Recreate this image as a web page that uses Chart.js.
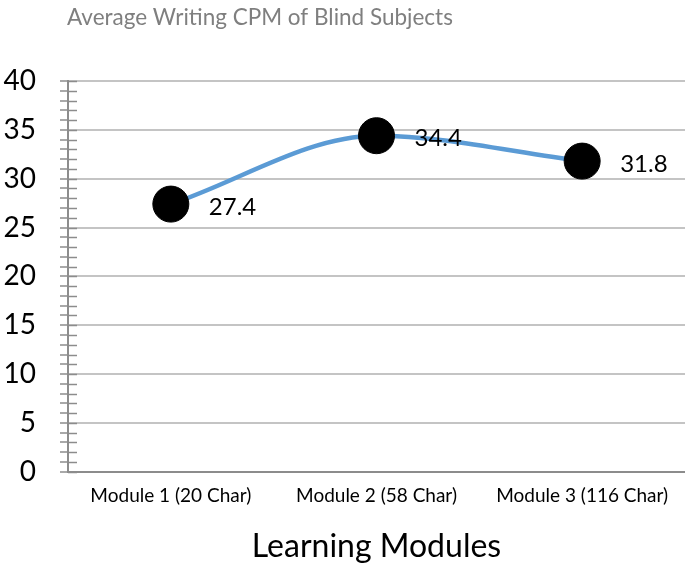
<!DOCTYPE html>
<html>
<head>
<meta charset="utf-8">
<script src="https://cdn.jsdelivr.net/npm/chart.js@4/dist/chart.umd.min.js"></script>
<style>
  body { margin: 0; background: #fff; }
  canvas { display: block; }
</style>
</head>
<body>
<canvas id="chart" width="685" height="567"></canvas>
<script>
var modules = ['Module 1 (20 Char)', 'Module 2 (58 Char)', 'Module 3 (116 Char)'];
var cpm = [27.4, 34.4, 31.8];
var yTicks = [0, 5, 10, 15, 20, 25, 30, 35, 40];
var chartTitle = 'Average Writing CPM of Blind Subjects';
var xTitle = 'Learning Modules';

// title drawn at left of plot area, like the original
var titlePlugin = {
  id: 'leftTitle',
  afterDraw: function(chart) {
    var ctx = chart.ctx;
    ctx.save();
    ctx.font = '22.5px Lato';
    ctx.fillStyle = '#7f7f7f';
    ctx.textAlign = 'left';
    ctx.textBaseline = 'middle';
    ctx.fillText(chartTitle, chart.chartArea.left - 1, 18);
    ctx.restore();
  }
};

// minor ticks crossing the y axis + value labels
var extrasPlugin = {
  id: 'extras',
  afterDatasetsDraw: function(chart) {
    var ctx = chart.ctx;
    var y = chart.scales.y;
    var left = chart.chartArea.left;
    ctx.save();
    ctx.strokeStyle = '#8c8c8c';
    ctx.lineWidth = 1.5;
    for (var v = y.min; v <= y.max; v++) {
      var py = Math.round(y.getPixelForValue(v)) + 0.5;
      ctx.beginPath();
      ctx.moveTo(left, py);
      ctx.lineTo(left + 9, py);
      ctx.stroke();
    }
    var meta = chart.getDatasetMeta(0);
    ctx.font = '24px Lato';
    ctx.fillStyle = '#000';
    ctx.textAlign = 'left';
    ctx.textBaseline = 'middle';
    meta.data.forEach(function(pt, i) {
      ctx.fillText(cpm[i].toFixed(1), pt.x + 38, pt.y + 3);
    });
    ctx.restore();
  }
};

new Chart(document.getElementById('chart'), {
  type: 'line',
  data: {
    labels: modules,
    datasets: [{
      data: cpm,
      borderColor: '#5b9bd5',
      borderWidth: 4.5,
      cubicInterpolationMode: 'monotone',
      pointRadius: 18,
      pointHoverRadius: 18,
      pointBackgroundColor: '#000',
      pointBorderColor: '#000',
      pointBorderWidth: 1,
      fill: false,
      clip: false
    }]
  },
  options: {
    responsive: false,
    devicePixelRatio: 1,
    animation: false,
    layout: { autoPadding: false, padding: { top: 81, right: 0, left: 0, bottom: 1 } },
    plugins: {
      legend: { display: false },
      tooltip: { enabled: false },
      title: { display: false }
    },
    scales: {
      x: {
        offset: true,
        afterFit: function(scale) {
          scale.paddingLeft = 0;
          scale.paddingRight = 0;
        },
        grid: { display: false, drawTicks: false },
        border: { display: true, color: '#8c8c8c', width: 2 },
        ticks: {
          color: '#000',
          font: { family: 'Lato', size: 19 },
          padding: 13,
          maxRotation: 0
        },
        title: {
          display: true,
          text: xTitle,
          color: '#000',
          font: { family: 'Lato', size: 32 },
          padding: { top: 7, bottom: 0 }
        }
      },
      y: {
        min: 0,
        max: 40,
        afterBuildTicks: function(scale) {
          var t = [];
          for (var v = 0; v <= 40; v++) t.push({ value: v });
          scale.ticks = t;
        },
        afterFit: function(scale) {
          scale.width = 68;
        },
        grid: {
          color: function(c) {
            return c.tick && c.tick.value % 5 === 0 ? '#c4c4c4' : 'rgba(0,0,0,0)';
          },
          lineWidth: 2,
          tickColor: '#8c8c8c',
          tickLength: 8,
          tickWidth: 1.5
        },
        border: { display: true, color: '#8c8c8c', width: 2 },
        ticks: {
          autoSkip: false,
          color: '#000',
          font: { family: 'Lato', size: 28 },
          padding: 24,
          callback: function(v) {
            return yTicks.indexOf(v) >= 0 ? String(v) : '';
          }
        }
      }
    }
  },
  plugins: [titlePlugin, extrasPlugin]
});
</script>
</body>
</html>
